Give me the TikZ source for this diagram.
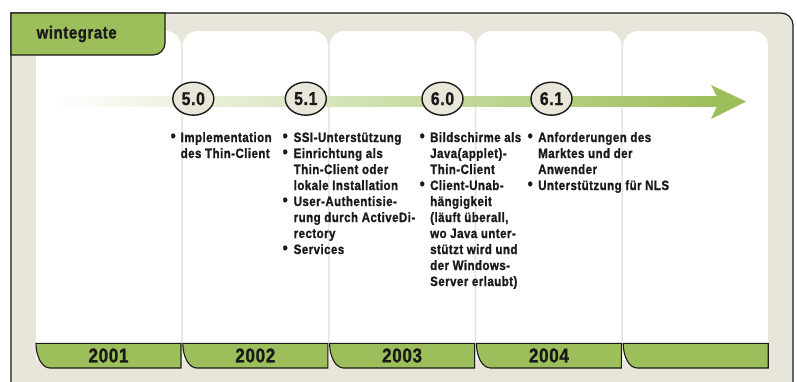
\documentclass[tikz,border=0pt]{standalone}
\usepackage{fontspec}
\setmainfont{Liberation Sans}
\newfontfamily\condb{Liberation Sans}[FakeStretch=0.85,LetterSpace=3.5,FakeBold=1.2]
\usetikzlibrary{shapes.geometric}
\definecolor{framebg}{HTML}{E8E6DA}
\definecolor{tabgreen}{HTML}{9DBF5B}
\definecolor{arrowgreen}{HTML}{9DBF5A}
\definecolor{ink}{HTML}{1A1A1A}
\definecolor{circfill}{HTML}{E9E7DA}
\tikzset{
  outline/.style={draw=ink, line width=1.2pt},
  yeartab/.style={fill=tabgreen, draw=ink, line width=1.1pt},
  version/.style={ellipse, draw=ink, line width=1.4pt, fill=circfill,
    minimum width=41pt, minimum height=33pt, inner sep=0pt,
    font=\condb\bfseries\fontsize{18.5}{20}\selectfont, text=ink},
  notes/.style={anchor=base west, inner sep=0pt,
    font=\condb\bfseries\fontsize{13.5}{16}\selectfont, text=ink},
  yearlabel/.style={font=\condb\bfseries\fontsize{20}{22}\selectfont, text=ink, inner sep=0pt},
  brandlabel/.style={anchor=base west, inner sep=0pt,
    font=\condb\bfseries\fontsize{17.5}{19}\selectfont, text=ink},
}
\newcommand{\bul}{\raisebox{0.5pt}{\scalebox{1.25}{•}}}
\begin{document}
\begin{tikzpicture}[x=1pt,y=-1pt]
\useasboundingbox (0,0) rectangle (797,381);
\clip (0,0) rectangle (797,381);
% frame
\fill[framebg] (11,13) -- (781,13) arc(-90:0:12) -- (793,400) -- (11,400) -- cycle;
\draw[outline] (11,400) -- (11,13) -- (781,13) arc(-90:0:12) -- (793,400);
% white columns
\foreach \i in {0,...,4}{
  \pgfmathsetmacro{\L}{36+146.8*\i}
  \pgfmathsetmacro{\R}{\L+145}
  \fill[white] (\L,360) -- (\L,46) arc(180:270:15) -- ({\R-15},31) arc(270:360:15) -- (\R,360) -- cycle;
  \filldraw[yeartab] (\L,343.3) -- (\R,343.3) -- (\R,368) -- ({\L+14},368)
     .. controls ({\L+6.3},368) and (\L,357.2) .. (\L,343.3) -- cycle;
}
% brand tab
\filldraw[fill=tabgreen, outline] (11,13) -- (165,13) -- (165,43) arc(0:90:12) -- (11,55) -- cycle;
\node[brandlabel] (brand) at (36.5,38.5) {wintegrate};
% timeline arrow
\coordinate (tlstart) at (50,96.7);
\coordinate (tlend) at (717,106.2);
\shade[left color=white, right color=arrowgreen] (tlstart) rectangle (tlend);
\fill[arrowgreen] (711,85) -- (746,101.5) -- (711,119) -- (717,106.2) -- (717,96.7) -- cycle;
% versions
\node[version] (v50) at (193.3,98.7) {5.0};
\node[version] (v51) at (305.8,98.7) {5.1};
\node[version] (v60) at (442.5,98.7) {6.0};
\node[version] (v61) at (551.5,98.7) {6.1};
% notes
\node[notes] (n1) at (170.5,142) {\begin{tabular}[t]{@{}l@{\hspace{5pt}}l@{}}
\bul & Implementation\\ & des Thin-Client\end{tabular}};
\node[notes] (n2) at (282.5,142) {\begin{tabular}[t]{@{}l@{\hspace{6pt}}l@{}}
\bul & SSI-Unterstützung\\
\bul & Einrichtung als\\ & Thin-Client oder\\ & lokale Installation\\
\bul & User-Authentisie-\\ & rung durch ActiveDi-\\ & rectory\\
\bul & Services\end{tabular}};
\node[notes] (n3) at (419.5,142) {\begin{tabular}[t]{@{}l@{\hspace{5.5pt}}l@{}}
\bul & Bildschirme als\\ & Java(applet)-\\ & Thin-Client\\
\bul & Client-Unab-\\ & hängigkeit\\ & (läuft überall,\\ & wo Java unter-\\ & stützt wird und\\ & der Windows-\\ & Server erlaubt)\end{tabular}};
\node[notes] (n4) at (527.5,142) {\begin{tabular}[t]{@{}l@{\hspace{5.5pt}}l@{}}
\bul & Anforderungen des\\ & Marktes und der\\ & Anwender\\
\bul & Unterstützung für NLS\end{tabular}};
% years
\node[yearlabel] (y1) at (108.5,355.5) {2001};
\node[yearlabel] (y2) at (255.3,355.5) {2002};
\node[yearlabel] (y3) at (402.1,355.5) {2003};
\node[yearlabel] (y4) at (548.9,355.5) {2004};
\end{tikzpicture}
\end{document}
